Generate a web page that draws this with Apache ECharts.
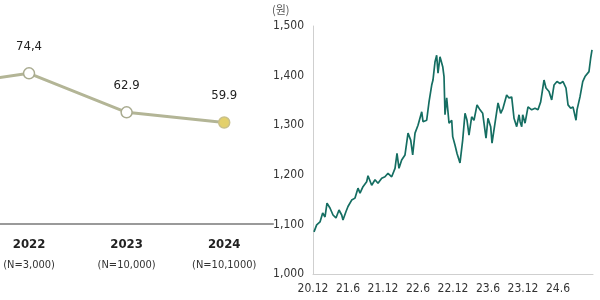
<!DOCTYPE html>
<html>
<head>
<meta charset="utf-8">
<script src="https://cdn.jsdelivr.net/npm/echarts@6/dist/echarts.min.js"></script>
<style>
html,body{margin:0;padding:0;background:#fff;}
#c{width:600px;height:300px;}
</style>
</head>
<body>
<div id="c"></div>
<script>
// Left panel: survey index by year (first year is cropped off the left edge)
const years = ['2021', '2022', '2023', '2024'];
const sampleSizes = ['', '(N=3,000)', '(N=10,000)', '(N=10,1000)'];
const indexValues = [70.3, 74.4, 62.9, 59.9];
const indexLabels = ['', '74,4', '62.9', '59.9'];

// Right panel: KRW/USD exchange rate, x = months since 2020.12
const rateMonths = [0.17,0.63,1.2,1.66,2.06,2.4,2.91,3.43,3.94,4.46,4.92,5.14,5.66,6.0,6.63,7.2,7.71,8.06,8.57,9.2,9.43,10.06,10.63,11.14,11.78,12.34,12.86,13.49,14.06,14.4,14.74,15.2,15.77,16.29,16.75,17.09,17.49,18.0,18.64,18.86,19.49,19.89,20.35,20.57,20.92,21.2,21.43,21.77,22.24,22.46,22.63,22.92,23.32,23.78,23.95,24.34,24.69,25.2,25.66,26.06,26.4,26.74,27.2,27.6,28.12,28.63,29.09,29.66,30.0,30.46,30.69,31.2,31.72,32.18,32.57,33.2,33.6,34.06,34.46,34.92,35.32,35.5,35.78,35.95,36.35,36.86,37.49,38.06,38.57,39.03,39.6,39.94,40.46,40.92,41.32,41.83,42.34,42.86,43.37,43.72,44.18,44.57,45.09,45.26,45.77,46.24,46.63,46.97,47.31,47.6,47.83];
const rateValues = [1085,1099,1105,1123,1115,1143,1133,1119,1113,1129,1119,1109,1126,1136,1149,1153,1173,1163,1176,1186,1198,1179,1190,1183,1193,1196,1203,1196,1213,1243,1213,1230,1240,1284,1270,1240,1284,1300,1327,1307,1310,1347,1381,1391,1428,1441,1405,1438,1418,1398,1321,1355,1304,1310,1277,1260,1243,1224,1270,1324,1310,1280,1317,1310,1341,1331,1324,1274,1314,1297,1264,1304,1345,1324,1334,1361,1355,1357,1314,1297,1321,1307,1297,1321,1304,1337,1331,1334,1331,1347,1391,1375,1368,1351,1381,1388,1384,1388,1375,1341,1334,1337,1310,1331,1357,1388,1398,1395,1408,1435,1452];
const rateTickLabels = ['20.12','21.6','21.12','22.6','22.12','23.6','23.12','24.6',''];

const narrow = '"Liberation Sans Narrow", "DejaVu Sans Condensed", sans-serif';

const chart = echarts.init(document.getElementById('c'), null, {renderer: 'canvas'});
chart.setOption({
  animation: false,
  backgroundColor: '#ffffff',
  graphic: [{
    type: 'text', left: 272, top: 4,
    style: {text: '(원)', fontSize: 11, fill: '#555', fontFamily: '"Noto Sans CJK KR", sans-serif'}
  }],
  grid: [
    {left: 0, width: 273, top: 0, bottom: 76},
    {left: 313, right: 7, top: 26, bottom: 26}
  ],
  xAxis: [
    {
      // category positions as indices; the visible window starts part-way past the first year
      gridIndex: 0, type: 'value', min: 0.7026, max: 3.5,
      axisLine: {lineStyle: {color: '#9a9a9a', width: 2}},
      axisTick: {show: false},
      splitLine: {show: false},
      axisLabel: {
        margin: 11,
        customValues: [1, 2, 3],
        formatter: function (v) {
          const i = Math.round(v);
          return '{y|' + years[i] + '}\n{n|' + sampleSizes[i] + '}';
        },
        rich: {
          y: {fontSize: 13, fontWeight: 'bold', color: '#222', lineHeight: 20, fontFamily: narrow},
          n: {fontSize: 11, color: '#333', lineHeight: 20, fontFamily: narrow}
        }
      }
    },
    {
      gridIndex: 1, type: 'value', min: 0, max: 48, interval: 6,
      axisLine: {show: true, lineStyle: {color: '#cfcfcf', width: 1}},
      axisTick: {show: false},
      splitLine: {show: false},
      axisLabel: {
        margin: 9, fontSize: 12, color: '#333', fontFamily: narrow,
        formatter: function (v) { return rateTickLabels[Math.round(v / 6)] || ''; }
      }
    }
  ],
  yAxis: [
    {gridIndex: 0, type: 'value', min: 30, max: 96, show: false},
    {
      gridIndex: 1, type: 'value', min: 1000, max: 1500, interval: 100,
      axisLine: {show: true, lineStyle: {color: '#cfcfcf', width: 1}},
      axisTick: {show: false},
      splitLine: {show: false},
      axisLabel: {
        margin: 9, fontSize: 12, color: '#333', fontFamily: narrow,
        formatter: function (v) { return v.toLocaleString('en-US'); }
      }
    }
  ],
  series: [
    {
      type: 'line', xAxisIndex: 0, yAxisIndex: 0,
      data: indexValues.map(function (v, i) {
        const last = i === indexValues.length - 1;
        return {
          value: [i, v],
          itemStyle: last ? {color: '#e3d06b', borderColor: '#c9c08a', borderWidth: 1.5}
                          : {color: '#ffffff', borderColor: '#a9ab90', borderWidth: 1.5}
        };
      }),
      symbol: 'circle', symbolSize: 11,
      lineStyle: {color: '#b3b596', width: 3},
      label: {
        show: true, position: 'top', distance: 14,
        fontSize: 13, color: '#222', fontFamily: narrow,
        formatter: function (p) { return indexLabels[p.dataIndex]; }
      },
      clip: true,
      z: 3
    },
    {
      type: 'line', xAxisIndex: 1, yAxisIndex: 1,
      data: rateMonths.map(function (m, i) { return [m, rateValues[i]]; }),
      showSymbol: false, symbol: 'none',
      lineStyle: {color: '#156e62', width: 1.7},
      z: 2
    }
  ]
});
</script>
</body>
</html>
